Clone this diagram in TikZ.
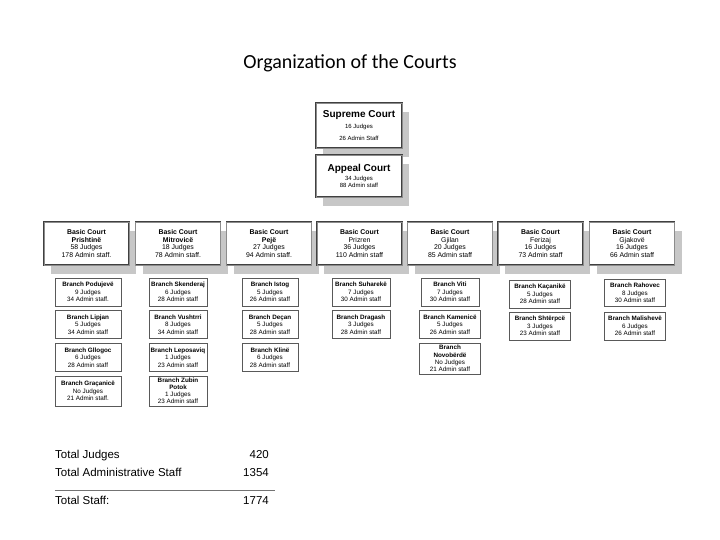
\documentclass[tikz,border=0pt]{standalone}
\usepackage{fontspec}
\setmainfont{Liberation Sans}
\newfontfamily\titlefont{Carlito}
\usetikzlibrary{shadows}
\begin{document}
\begin{tikzpicture}[x=1pt,y=-1pt,
  court/.style={draw=black!75, line width=0.45pt, double=black!45, double distance=0.8pt,
    fill=white, align=center, inner sep=0pt,
    drop shadow={shadow xshift=7pt, shadow yshift=-9pt, fill=black!22, opacity=1}},
  topcourt/.style={court, minimum width=86pt},
  basic/.style={court, minimum width=85pt, minimum height=43pt, font=\fontsize{6.9}{7.6}\selectfont},
  branch/.style={draw=black!65, line width=0.8pt, fill=white, align=center, inner sep=0pt,
    minimum width=58pt, minimum height=28pt, font=\fontsize{6.3}{7.6}\selectfont},
  total/.style={font=\fontsize{11.5}{13}\selectfont, inner sep=0pt}]
\path[use as bounding box] (0,0) rectangle (720,540);

\node[font=\titlefont\fontsize{20}{22}\selectfont] (title) at (350,63) {Organization of the Courts};

\node[topcourt, minimum height=45pt, font=\fontsize{6}{12}\selectfont] (supreme) at (359,125.5)
  {{\fontsize{10}{11}\selectfont\bfseries Supreme Court}\\[-1pt]
   16 Judges\\
   26 Admin Staff};
\node[topcourt, minimum height=42pt, font=\fontsize{6}{7.5}\selectfont] (appeal) at (359,176)
  {{\fontsize{10}{11}\selectfont\bfseries Appeal Court}\\[1pt]
   34 Judges\\
   88 Admin staff};

% Basic courts
\node[basic] (prishtine) at (86.5,243.5) {\bfseries Basic Court\\\bfseries Prishtinë\\58 Judges\\178 Admin staff.};
\node[basic] (mitrovice) at (178,243.5) {\bfseries Basic Court\\\bfseries Mitrovicë\\18 Judges\\78 Admin staff.};
\node[basic] (peje) at (269,243.5) {\bfseries Basic Court\\\bfseries Pejë\\27 Judges\\94 Admin staff.};
\node[basic] (prizren) at (359.5,243.5) {\bfseries Basic Court\\Prizren\\36 Judges\\110 Admin staff};
\node[basic] (gjilan) at (450,243.5) {\bfseries Basic Court\\Gjilan\\20 Judges\\85 Admin staff};
\node[basic] (ferizaj) at (540.5,243.5) {\bfseries Basic Court\\Ferizaj\\16 Judges\\73 Admin staff};
\node[basic] (gjakove) at (632,243.5) {\bfseries Basic Court\\Gjakovë\\16 Judges\\66 Admin staff};

% Branches column 1
\node[branch, minimum width=66pt] (podujeve) at (88,292) {\bfseries Branch Podujevë\\9 Judges\\34 Admin staff.};
\node[branch, minimum width=66pt] (lipjan) at (88,324.5) {\bfseries Branch Lipjan\\5 Judges\\34 Admin staff};
\node[branch, minimum width=66pt] (gllogoc) at (88,357.5) {\bfseries Branch Gllogoc\\6 Judges\\28 Admin staff};
\node[branch, minimum width=66pt, minimum height=30pt] (gracanice) at (88,391) {\bfseries Branch Graçanicë\\No Judges\\21 Admin staff.};
% column 2
\node[branch] (skenderaj) at (178,292) {\bfseries Branch Skenderaj\\6 Judges\\28 Admin staff};
\node[branch] (vushtrri) at (178,324.5) {\bfseries Branch Vushtrri\\8 Judges\\34 Admin staff};
\node[branch] (leposaviq) at (178,357.5) {\bfseries Branch Leposaviq\\1 Judges\\23 Admin staff};
\node[branch, minimum height=30pt, font=\fontsize{6.3}{7.1}\selectfont] (zubin) at (178,391) {\bfseries Branch Zubin\\\bfseries Potok\\1 Judges\\23 Admin staff};
% column 3
\node[branch, minimum width=56pt] (istog) at (270,292) {\bfseries Branch Istog\\5 Judges\\26 Admin staff};
\node[branch, minimum width=56pt] (decan) at (270,324.5) {\bfseries Branch Deçan\\5 Judges\\28 Admin staff};
\node[branch, minimum width=56pt] (kline) at (270,357.5) {\bfseries Branch Klinë\\6 Judges\\28 Admin staff};
% column 4
\node[branch] (suhareke) at (361,292) {\bfseries Branch Suharekë\\7 Judges\\30 Admin staff};
\node[branch] (dragash) at (361,324.5) {\bfseries Branch Dragash\\3 Judges\\28 Admin staff};
% column 5
\node[branch] (viti) at (450,292) {\bfseries Branch Viti\\7 Judges\\30 Admin staff};
\node[branch, minimum width=61pt] (kamenice) at (450,324.5) {\bfseries Branch Kamenicë\\5 Judges\\26 Admin staff};
\node[branch, minimum width=61pt, minimum height=31pt, font=\fontsize{6.3}{7.2}\selectfont] (novoberde) at (450,358.5) {\bfseries Branch\\\bfseries Novobërdë\\No Judges\\21 Admin staff};
% column 6
\node[branch, minimum width=61pt] (kacanike) at (540,294) {\bfseries Branch Kaçanikë\\5 Judges\\28 Admin staff};
\node[branch, minimum width=61pt] (shterpce) at (540,326) {\bfseries Branch Shtërpcë\\3 Judges\\23 Admin staff};
% column 7
\node[branch, minimum width=61pt, minimum height=27pt] (rahovec) at (635,293) {\bfseries Branch Rahovec\\8 Judges\\30 Admin staff};
\node[branch, minimum width=61pt] (malisheve) at (635,326) {\bfseries Branch Malishevë\\6 Judges\\26 Admin staff};

% Totals
\node[total, anchor=base west] (tj) at (55,458) {Total Judges};
\node[total, anchor=base east] (tjn) at (269,458) {420};
\node[total, anchor=base west] (ta) at (55,476) {Total Administrative Staff};
\node[total, anchor=base east] (tan) at (269,476) {1354};
\coordinate (la) at (55,490);
\coordinate (lb) at (275,490);
\draw[black!55, line width=0.7pt] (la) -- (lb);
\node[total, anchor=base west] (ts) at (55,504) {Total Staff:};
\node[total, anchor=base east] (tsn) at (269,504) {1774};
\end{tikzpicture}
\end{document}
